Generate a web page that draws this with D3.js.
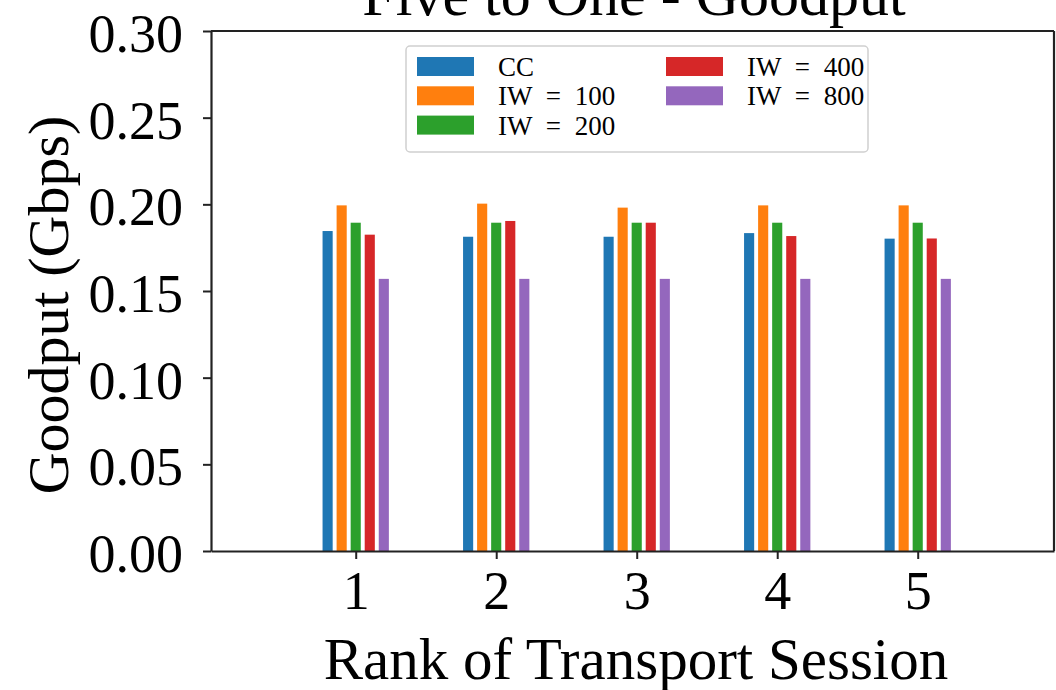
<!DOCTYPE html>
<html>
<head>
<meta charset="utf-8">
<script src="https://cdn.jsdelivr.net/npm/d3@7"></script>
<style>
  body { margin: 0; background: #fff; }
  svg { display: block; font-family: "Liberation Serif", "DejaVu Serif", serif; }
</style>
</head>
<body>
<div id="chart"></div>
<script>
// Goodput per transport session rank, one array per series
const ranks = [1, 2, 3, 4, 5];
const seriesNames = ["CC", "IW = 100", "IW = 200", "IW = 400", "IW = 800"];
const seriesColors = ["#1f77b4", "#ff7f0e", "#2ca02c", "#d62728", "#9467bd"];
const cc    = [0.1846, 0.1813, 0.1813, 0.1834, 0.1802];
const iw100 = [0.1994, 0.2004, 0.1981, 0.1994, 0.1994];
const iw200 = [0.1894, 0.1894, 0.1894, 0.1894, 0.1894];
const iw400 = [0.1825, 0.1904, 0.1894, 0.1817, 0.1803];
const iw800 = [0.1570, 0.1570, 0.1570, 0.1570, 0.1570];
const yTicks = [0, 0.05, 0.10, 0.15, 0.20, 0.25, 0.30];

const seriesValues = [cc, iw100, iw200, iw400, iw800];

const width = 1056, height = 690;
const barStep = 0.1, barWidth = 0.072;

const svg = d3.select("#chart").append("svg")
    .attr("width", width)
    .attr("height", height);

const x = d3.scaleLinear().domain([-0.03, 5.97]).range([211, 1054]);
const y = d3.scaleLinear().domain([0, 0.30]).range([551, 31]);

// bars
seriesValues.forEach((vals, i) => {
    svg.append("g").selectAll("rect")
        .data(ranks.map((r, j) => ({ r, v: vals[j] })))
        .enter()
        .append("rect")
        .attr("x", d => x(d.r + (i - 2.5) * barStep + (barStep - barWidth) / 2))
        .attr("width", x(barWidth) - x(0))
        .attr("y", d => y(d.v))
        .attr("height", d => y(0) - y(d.v))
        .attr("fill", seriesColors[i]);
});

// axes
const xAxis = svg.append("g")
    .attr("transform", `translate(0,${y(0)})`)
    .call(d3.axisBottom(x).tickValues(ranks).tickFormat(d3.format("d"))
        .tickSizeInner(8).tickSizeOuter(0).tickPadding(12));
const yAxis = svg.append("g")
    .attr("transform", `translate(${x.range()[0]},0)`)
    .call(d3.axisLeft(y).tickValues(yTicks).tickFormat(d3.format(".2f"))
        .tickSizeInner(8).tickSizeOuter(0).tickPadding(20));

[xAxis, yAxis].forEach(a => {
    a.select(".domain").attr("stroke", "#222").attr("stroke-width", 2.2);
    a.selectAll(".tick line").attr("stroke", "#222").attr("stroke-width", 2);
    a.selectAll(".tick text").attr("fill", "#000").style("font-size", "54px")
        .style("font-family", "Liberation Serif, serif");
});
xAxis.selectAll(".tick text").attr("dy", "0.71em");
yAxis.selectAll(".tick text").attr("dy", "0.38em");

// top and right spines
svg.append("line").attr("x1", x.range()[0]).attr("x2", x.range()[1])
    .attr("y1", y(0.30)).attr("y2", y(0.30)).attr("stroke", "#222").attr("stroke-width", 2.2);
svg.append("line").attr("x1", x.range()[1]).attr("x2", x.range()[1])
    .attr("y1", y(0.30)).attr("y2", y(0)).attr("stroke", "#222").attr("stroke-width", 2.2);

// title and labels
svg.append("text")
    .attr("x", 634).attr("y", 15)
    .attr("text-anchor", "middle")
    .style("font-size", "60px")
    .text("Five to One - Goodput");

svg.append("text")
    .attr("x", 636).attr("y", 679)
    .attr("text-anchor", "middle")
    .style("font-size", "59px")
    .text("Rank of Transport Session");

svg.append("text")
    .attr("transform", `translate(68,${(y(0) + y(0.30)) / 2 + 14}) rotate(-90)`)
    .attr("text-anchor", "middle")
    .style("font-size", "58px")
    .text("Goodput (Gbps)");

// legend
const legend = svg.append("g").attr("transform", "translate(406,46)");
legend.append("rect")
    .attr("width", 462).attr("height", 106)
    .attr("rx", 4)
    .attr("fill", "#fff").attr("fill-opacity", 0.8)
    .attr("stroke", "#d0d0d0").attr("stroke-width", 1.5);

const items = legend.selectAll("g.item")
    .data(seriesNames.map((name, i) => ({ name, color: seriesColors[i], col: i < 3 ? 0 : 1, row: i < 3 ? i : i - 3 })))
    .enter()
    .append("g")
    .attr("class", "item")
    .attr("transform", d => `translate(${11 + d.col * 249},${11 + d.row * 29.3})`);

items.append("rect")
    .attr("width", 57).attr("height", 19)
    .attr("fill", d => d.color);

items.append("text")
    .attr("x", 81).attr("y", 19)
    .style("font-size", "27px")
    .style("word-spacing", "7px")
    .text(d => d.name);
</script>
</body>
</html>
